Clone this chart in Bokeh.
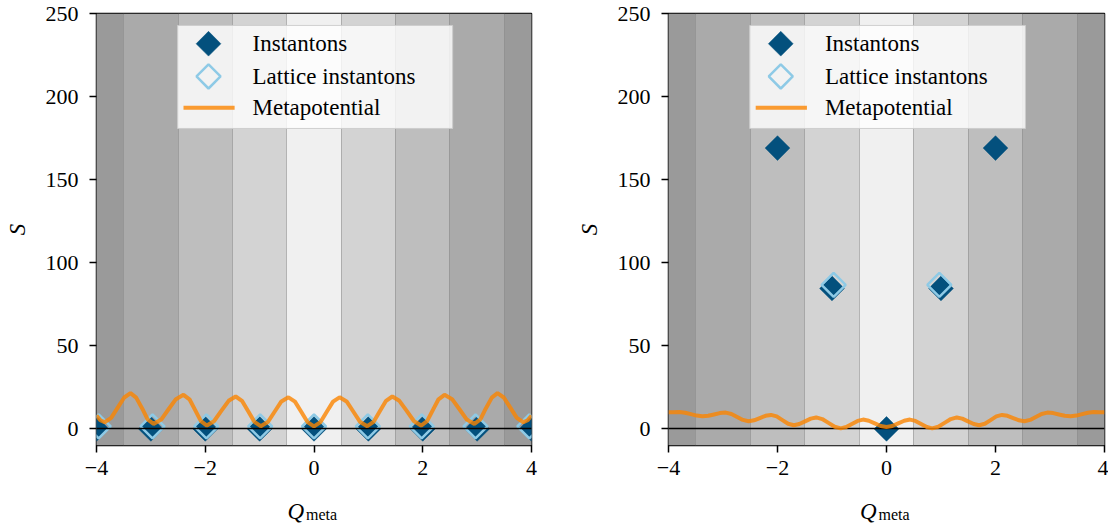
import numpy as np
from bokeh.plotting import figure
from bokeh.layouts import row, column
from bokeh.models import Range1d, FixedTicker
from bokeh.core.properties import value
from bokeh.embed import file_html
from bokeh.resources import INLINE

# ---------------- data ----------------
band_centers = [-4, -3, -2, -1, 0, 1, 2, 3, 4]
band_colors = ["#9a9a9a", "#aaaaaa", "#bebebe", "#d3d3d3", "#f0f0f0",
               "#d3d3d3", "#bebebe", "#aaaaaa", "#9a9a9a"]

x_ticks = [-4, -2, 0, 2, 4]
y_ticks = [0, 50, 100, 150, 200, 250]

# left panel
inst_q_left = [-4, -3, -2, -1, 0, 1, 2, 3, 4]
inst_s_left = [0, 0, 0, 0, 0, 0, 0, 0, 0]
lat_q_left = [-3.96, -2.97, -1.98, -0.99, 0.0, 0.99, 1.98, 2.97, 3.96]
lat_s_left = [1.5, 1.5, 1.5, 1.5, 1.5, 1.5, 1.5, 1.5, 1.5]
meta_q_left = [-4.00, -3.93, -3.85, -3.73, -3.61, -3.49, -3.375, -3.27, -3.16, -3.06,
               -2.95, -2.81, -2.675, -2.54, -2.40, -2.29, -2.185, -2.08, -1.97, -1.84,
               -1.705, -1.57, -1.44, -1.325, -1.21, -1.095, -0.98, -0.85, -0.725, -0.60,
               -0.47, -0.35, -0.235, -0.12, 0.00, 0.12, 0.235, 0.35, 0.47, 0.60,
               0.725, 0.85, 0.98, 1.095, 1.21, 1.325, 1.44, 1.57, 1.705, 1.84,
               1.97, 2.08, 2.185, 2.29, 2.40, 2.54, 2.675, 2.81, 2.95, 3.06,
               3.16, 3.27, 3.375, 3.49, 3.61, 3.73, 3.85, 3.93, 4.00]
meta_s_left = [8.1, 5.2, 4.0, 6.6, 12.8, 18.9, 21.5, 18.8, 12.3, 5.7,
               3.0, 5.6, 11.8, 17.9, 20.5, 17.8, 11.3, 4.7, 2.0, 4.6,
               10.8, 16.9, 19.5, 16.9, 10.6, 4.2, 1.6, 4.1, 10.3, 16.5,
               19.0, 16.4, 10.3, 4.1, 1.5, 4.1, 10.3, 16.4, 19.0, 16.5,
               10.3, 4.1, 1.6, 4.2, 10.6, 16.9, 19.5, 16.9, 10.8, 4.6,
               2.0, 4.7, 11.3, 17.8, 20.5, 17.9, 11.8, 5.6, 3.0, 5.7,
               12.3, 18.8, 21.5, 18.9, 12.8, 6.6, 4.0, 5.2, 8.1]

# right panel
inst_q_right = [-2, -1, 0, 1, 2]
inst_s_right = [169, 84.5, 0, 84.5, 169]
lat_q_right = [-0.97, 0.97]
lat_s_right = [86.7, 86.7]
meta_q_right = [-4.00, -3.90, -3.80, -3.695, -3.59, -3.485, -3.38, -3.27, -3.165, -3.06,
                -2.95, -2.845, -2.74, -2.635, -2.53, -2.43, -2.325, -2.22, -2.12, -2.015,
                -1.91, -1.805, -1.70, -1.60, -1.495, -1.39, -1.29, -1.18, -1.065, -0.95,
                -0.84, -0.74, -0.635, -0.53, -0.43, -0.325, -0.215, -0.105, 0.00,
                0.105, 0.215, 0.325, 0.43, 0.53, 0.635, 0.74, 0.84, 0.95, 1.065,
                1.18, 1.29, 1.39, 1.495, 1.60, 1.70, 1.805, 1.91, 2.015, 2.12,
                2.22, 2.325, 2.43, 2.53, 2.635, 2.74, 2.845, 2.95, 3.06, 3.165,
                3.27, 3.38, 3.485, 3.59, 3.695, 3.80, 3.90, 4.00]
meta_s_right = [10.0, 10.05, 10.1, 9.7, 8.85, 8.0, 7.6, 7.9, 8.7, 9.5,
                9.8, 9.0, 7.2, 5.4, 4.6, 5.15, 6.5, 7.85, 8.4, 7.5,
                5.3, 3.1, 2.2, 2.9, 4.55, 6.2, 6.9, 5.9, 3.6, 1.3,
                0.3, 1.1, 2.95, 4.8, 5.6, 4.9, 3.35, 1.75, 1.1,
                1.75, 3.35, 4.9, 5.6, 4.8, 2.95, 1.1, 0.3, 1.3, 3.6,
                5.9, 6.9, 6.2, 4.55, 2.9, 2.2, 3.1, 5.3, 7.5, 8.4,
                7.85, 6.5, 5.15, 4.6, 5.4, 7.2, 9.0, 9.8, 9.5, 8.7,
                7.9, 7.6, 8.0, 8.85, 9.7, 10.1, 10.05, 10.0]

legend_labels = ["Instantons", "Lattice instantons", "Metapotential"]

# ---------------- style / layout ----------------
DARK = "#03507d"
LIGHT = "#8ecae6"
ORANGE = "#fb8500"
FONT = "Liberation Serif"
FS = "22px"

# legend box placement (in axis units of the panels)
LEG_BOX = dict(left=-2.51, right=2.55, bottom=180.8, top=242.8)
LEG_MARK_X = -1.94
LEG_LINE_X = (-2.40, -1.46)
LEG_TEXT_X = -1.13
LEG_ROWS = [231.8, 212.1, 193.3]

MAIN_H = 489
LABEL_H = 35


def make_panel(inst_q, inst_s, lat_q, lat_s, meta_q, meta_s, width, left, right):
    p = figure(width=width, height=MAIN_H, output_backend="svg", toolbar_location=None,
               x_range=Range1d(-4, 4), y_range=Range1d(-10, 250),
               min_border_left=left, min_border_right=right,
               min_border_top=13, min_border_bottom=44)
    p.xgrid.visible = False
    p.ygrid.visible = False
    p.background_fill_color = "white"
    p.border_fill_color = "white"
    p.outline_line_color = "black"
    p.outline_line_width = 1.5

    x0 = [c - 0.5 for c in band_centers]
    x1 = [c + 0.5 for c in band_centers]
    p.vstrip(x0=x0, x1=x1, fill_color=band_colors, fill_alpha=1.0,
             line_color="#707070", line_alpha=0.35, line_width=1)

    p.scatter(inst_q, inst_s, marker="square", angle=np.pi / 4, size=17.5,
              fill_color=DARK, line_color=DARK, line_width=0.5)
    p.scatter(lat_q, lat_s, marker="square", angle=np.pi / 4, size=17,
              fill_color=None, line_color=LIGHT, line_width=2.5)
    p.hspan(y=[0], line_color="black", line_width=1.5)
    p.line(meta_q, meta_s, line_color=ORANGE, line_alpha=0.8, line_width=4)

    # legend (box, symbols, labels)
    p.quad(left=[LEG_BOX["left"]], right=[LEG_BOX["right"]],
           bottom=[LEG_BOX["bottom"]], top=[LEG_BOX["top"]],
           fill_color="white", fill_alpha=0.8, line_color="#cccccc", line_alpha=0.9,
           line_width=1)
    p.scatter([LEG_MARK_X], [LEG_ROWS[0]], marker="square", angle=np.pi / 4, size=17.5,
              fill_color=DARK, line_color=DARK, line_width=0.5)
    p.scatter([LEG_MARK_X], [LEG_ROWS[1]], marker="square", angle=np.pi / 4, size=17,
              fill_color=None, line_color=LIGHT, line_width=2.5)
    p.segment(x0=[LEG_LINE_X[0]], x1=[LEG_LINE_X[1]], y0=[LEG_ROWS[2]], y1=[LEG_ROWS[2]],
              line_color=ORANGE, line_alpha=0.8, line_width=4)
    p.text(x=[LEG_TEXT_X] * 3, y=LEG_ROWS, text=legend_labels,
           text_font=value(FONT), text_font_size=value("23px"), text_color="black",
           text_align="left", text_baseline="middle")

    # axes
    p.xaxis.ticker = FixedTicker(ticks=x_ticks)
    p.yaxis.ticker = FixedTicker(ticks=y_ticks)
    p.xaxis.major_label_overrides = {t: (("\u2212" + str(-t)) if t < 0 else str(t)) for t in x_ticks}
    for ax in (p.xaxis[0], p.yaxis[0]):
        ax.axis_line_color = None
        ax.major_tick_line_color = "black"
        ax.major_tick_line_width = 1.5
        ax.major_tick_out = 7
        ax.major_tick_in = 0
        ax.minor_tick_line_color = None
        ax.major_label_text_font = FONT
        ax.major_label_text_font_size = FS
        ax.major_label_text_color = "black"
    p.xaxis.major_label_standoff = 8
    p.yaxis.major_label_standoff = 11
    p.yaxis.axis_label = "S"
    p.yaxis.axis_label_text_font = FONT
    p.yaxis.axis_label_text_font_style = "italic"
    p.yaxis.axis_label_text_font_size = "23px"
    p.yaxis.axis_label_text_color = "black"
    p.yaxis.axis_label_standoff = 13
    return p


def make_xlabel(width, left, right):
    lf = figure(width=width, height=LABEL_H, output_backend="svg", toolbar_location=None,
                x_range=Range1d(-4, 4), y_range=Range1d(0, LABEL_H),
                min_border_left=left, min_border_right=right,
                min_border_top=0, min_border_bottom=0)
    lf.axis.visible = False
    lf.grid.visible = False
    lf.outline_line_color = None
    lf.background_fill_color = "white"
    lf.border_fill_color = "white"
    lf.text(x=[0], y=[13], text=["Q"], x_offset=-10,
            text_font=value(FONT), text_font_style=value("italic"),
            text_font_size=value("23px"), text_color="black",
            text_align="right", text_baseline="alphabetic")
    lf.text(x=[0], y=[10], text=["meta"], x_offset=-8,
            text_font=value(FONT), text_font_size=value("16px"), text_color="black",
            text_align="left", text_baseline="alphabetic")
    return lf


W1, L1, R1 = 561, 96, 30
W2, L2, R2 = 547, 107, 4

p1 = make_panel(inst_q_left, inst_s_left, lat_q_left, lat_s_left,
                meta_q_left, meta_s_left, W1, L1, R1)
p2 = make_panel(inst_q_right, inst_s_right, lat_q_right, lat_s_right,
                meta_q_right, meta_s_right, W2, L2, R2)
l1 = make_xlabel(W1, L1, R1)
l2 = make_xlabel(W2, L2, R2)

layout = column(row(p1, p2, spacing=0), row(l1, l2, spacing=0), spacing=0)
open("out.html", "w").write(file_html(layout, INLINE))
